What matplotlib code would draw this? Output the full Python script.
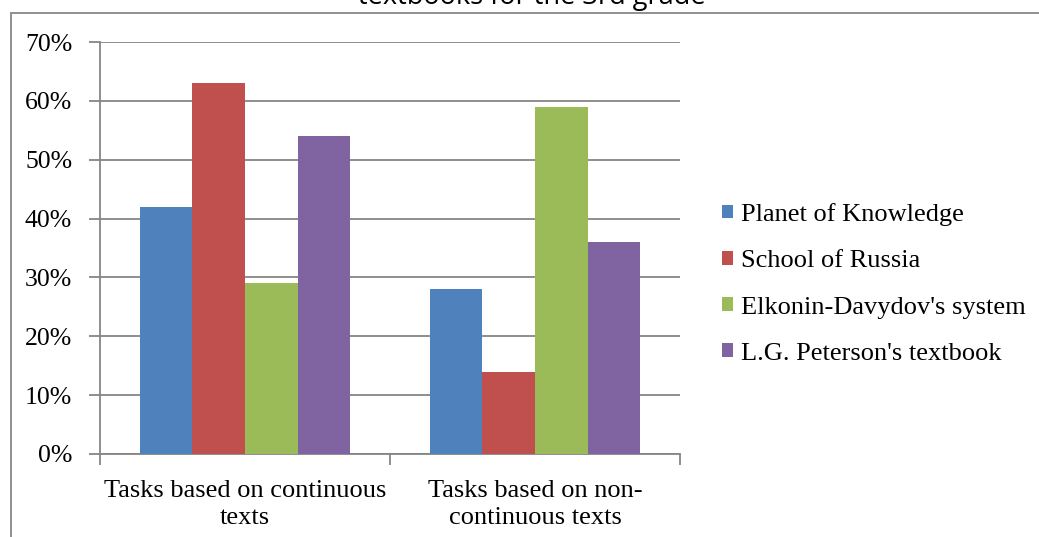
import matplotlib
matplotlib.use("Agg")
import matplotlib.pyplot as plt
import numpy as np
from matplotlib.patches import Rectangle

categories = ["Tasks based on continuous\ntexts", "Tasks based on non-\ncontinuous texts"]
series_names = ["Planet of Knowledge", "School of Russia", "Elkonin-Davydov's system", "L.G. Peterson's textbook"]
planet = [42, 28]
school = [63, 14]
elkonin = [29, 59]
peterson = [54, 36]
colors = ["#4F81BD", "#C0504D", "#9BBB59", "#8064A2"]
yticks = [0, 10, 20, 30, 40, 50, 60, 70]
title = "textbooks for the 3rd grade"

W, H = 1039, 537
fig = plt.figure(figsize=(W / 100, H / 100), dpi=100)
serif = ["Liberation Serif", "DejaVu Serif"]
FS = 19

ax = fig.add_axes([100 / W, 1 - 454 / H, 580 / W, 412 / H])
series = [planet, school, elkonin, peterson]
x = np.arange(len(categories))
bw = 0.727 / 4
for i, (vals, c, name) in enumerate(zip(series, colors, series_names)):
    ax.bar(x + (i - 1.5) * bw, vals, width=bw, color=c, label=name, zorder=3)

ax.set_xlim(-0.5, 1.5)
ax.set_ylim(0, 70)
ax.set_yticks(yticks)
ax.set_yticklabels([f"{t}%" for t in yticks], fontfamily=serif, fontsize=18.5)
ax.yaxis.grid(True, color="#868686", linewidth=1.3, zorder=0)
ax.set_xticks([-0.5, 0.5, 1.5], minor=False)
ax.set_xticklabels([])
ax.set_xticks(x, minor=True)
ax.set_xticklabels(categories, minor=True, fontfamily=serif, fontsize=FS, linespacing=1.32)
ax.tick_params(axis="x", which="minor", length=0, pad=18.5)
ax.tick_params(axis="x", which="major", length=8, color="#868686", width=1.3)
ax.tick_params(axis="y", length=8, color="#868686", width=1.3, pad=12)
for s in ["top", "right"]:
    ax.spines[s].set_visible(False)
for s in ["left", "bottom"]:
    ax.spines[s].set_color("#868686")
    ax.spines[s].set_linewidth(1.3)

leg = fig.legend(loc="upper left", bbox_to_anchor=(722 / W, 1 - 203 / H), frameon=False,
                 prop={"family": serif, "size": FS}, handlelength=0.43, handleheight=0.43,
                 handletextpad=0.3, labelspacing=0.92, borderaxespad=0, borderpad=0)

fig.text(532 / W, 1 - 4 / H, title, ha="center", va="baseline", fontsize=19.5,
         fontfamily=["Open Sans", "DejaVu Sans"])

fig.add_artist(Rectangle((11 / W, -0.1), 1.2, 1 - 13 / H + 0.1, transform=fig.transFigure,
                         fill=False, edgecolor="#878787", linewidth=1.3))

fig.savefig("out.png", dpi=100)
